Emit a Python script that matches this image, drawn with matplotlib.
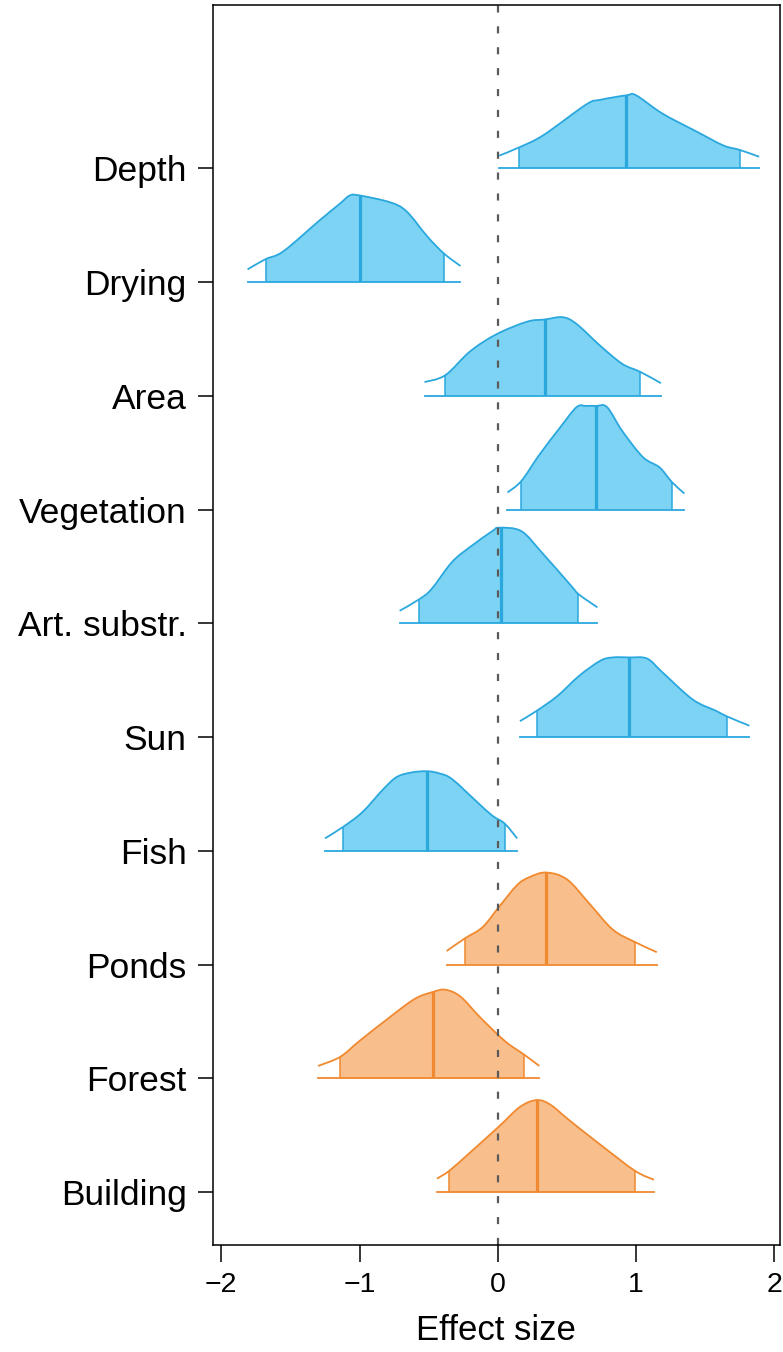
import matplotlib
matplotlib.use('Agg')
import matplotlib.pyplot as plt
from matplotlib.path import Path
from matplotlib.patches import PathPatch, Rectangle
import numpy as np

plt.rcParams['font.family'] = ['Liberation Sans', 'DejaVu Sans']

# predictors, top to bottom
labels = ['Depth', 'Drying', 'Area', 'Vegetation', 'Art. substr.',
          'Sun', 'Fish', 'Ponds', 'Forest', 'Building']
groups = ['local'] * 7 + ['landscape'] * 3

# posterior density outlines (x = effect size, h = height in row units)
dens_x = [
    [0.01, 0.15, 0.33, 0.64, 0.74, 0.93, 1.00, 1.19, 1.44, 1.63, 1.75, 1.89],
    [-1.81, -1.68, -1.55, -1.29, -1.14, -1.07, -1.00, -0.78, -0.66, -0.51, -0.39, -0.27],
    [-0.53, -0.38, -0.20, -0.01, 0.21, 0.34, 0.47, 0.57, 0.74, 0.90, 1.03, 1.18],
    [0.07, 0.17, 0.30, 0.45, 0.57, 0.64, 0.71, 0.79, 0.90, 1.05, 1.17, 1.26, 1.35],
    [-0.71, -0.57, -0.48, -0.33, -0.19, -0.04, 0.01, 0.17, 0.32, 0.53, 0.58, 0.66, 0.72],
    [0.16, 0.28, 0.43, 0.59, 0.74, 0.83, 0.95, 1.08, 1.19, 1.41, 1.58, 1.66, 1.82],
    [-1.25, -1.12, -0.98, -0.83, -0.73, -0.62, -0.51, -0.42, -0.33, -0.15, -0.04, 0.05, 0.14],
    [-0.37, -0.24, -0.11, 0.01, 0.14, 0.23, 0.35, 0.50, 0.66, 0.83, 0.99, 1.15],
    [-1.30, -1.14, -1.00, -0.78, -0.60, -0.47, -0.38, -0.27, -0.13, 0.05, 0.19, 0.30],
    [-0.44, -0.35, -0.20, 0.01, 0.16, 0.28, 0.38, 0.52, 0.74, 0.99, 1.13],
]
dens_h = [
    [0.11, 0.18, 0.29, 0.56, 0.60, 0.64, 0.64, 0.48, 0.32, 0.20, 0.16, 0.10],
    [0.11, 0.20, 0.27, 0.54, 0.69, 0.76, 0.76, 0.70, 0.62, 0.40, 0.25, 0.14],
    [0.12, 0.18, 0.39, 0.54, 0.65, 0.67, 0.69, 0.63, 0.44, 0.28, 0.21, 0.11],
    [0.15, 0.25, 0.48, 0.72, 0.90, 0.91, 0.91, 0.90, 0.69, 0.46, 0.37, 0.24, 0.14],
    [0.11, 0.21, 0.30, 0.54, 0.68, 0.81, 0.84, 0.81, 0.62, 0.33, 0.26, 0.19, 0.14],
    [0.14, 0.23, 0.36, 0.54, 0.67, 0.70, 0.70, 0.69, 0.57, 0.33, 0.23, 0.18, 0.10],
    [0.11, 0.21, 0.34, 0.54, 0.65, 0.69, 0.70, 0.68, 0.63, 0.43, 0.31, 0.24, 0.11],
    [0.12, 0.23, 0.33, 0.51, 0.70, 0.77, 0.81, 0.75, 0.54, 0.31, 0.20, 0.11],
    [0.11, 0.19, 0.33, 0.54, 0.70, 0.76, 0.78, 0.72, 0.54, 0.33, 0.21, 0.11],
    [0.12, 0.19, 0.35, 0.58, 0.75, 0.81, 0.77, 0.63, 0.42, 0.19, 0.11],
]
lower = [0.15, -1.68, -0.38, 0.17, -0.57, 0.28, -1.12, -0.24, -1.14, -0.35]
median = [0.93, -1.00, 0.34, 0.71, 0.02, 0.95, -0.51, 0.35, -0.47, 0.28]
upper = [1.75, -0.39, 1.03, 1.26, 0.58, 1.66, 0.05, 0.99, 0.19, 0.99]

xticks = [-2, -1, 0, 1, 2]

colors = {'local': ('#7dd3f3', '#2aa8de'),
          'landscape': ('#f8bf8c', '#f0892f')}


def smooth_path(pts):
    # bezier path through the read points (catmull-rom handles)
    p = np.vstack([pts[0], pts, pts[-1]])
    verts = [pts[0]]
    codes = [Path.MOVETO]
    for k in range(1, len(p) - 2):
        c1 = p[k] + (p[k + 1] - p[k - 1]) / 6
        c2 = p[k + 1] - (p[k + 2] - p[k]) / 6
        verts += [c1, c2, p[k + 1]]
        codes += [Path.CURVE4] * 3
    return verts, codes


fig = plt.figure(figsize=(7.83, 13.52), dpi=100)
ax = fig.add_axes([0.272, 0.079, 0.724, 0.917])

n = len(labels)
ypos = np.arange(n, 0, -1)

for i in range(n):
    y0 = ypos[i]
    x = np.array(dens_x[i])
    h = np.array(dens_h[i])
    fill, edge = colors[groups[i]]
    verts, codes = smooth_path(np.column_stack([x, y0 + h]))
    outline = Path(verts, codes)
    shape = Path(verts + [(x[-1], y0), (x[0], y0), (x[0], y0)],
                 codes + [Path.LINETO, Path.LINETO, Path.CLOSEPOLY])

    area = PathPatch(shape, fc=fill, ec='none', lw=0)
    ax.add_patch(area)
    area.set_clip_path(Rectangle((lower[i], y0 - 0.5), upper[i] - lower[i], 2,
                                 transform=ax.transData))
    ax.add_patch(PathPatch(outline, fc='none', ec=edge, lw=1.3))
    ax.plot([x[0], x[-1]], [y0, y0], color=edge, lw=1.3)

    mask = PathPatch(shape, fc='none', ec='none', transform=ax.transData)
    ax.add_patch(mask)
    for v, w in ((lower[i], 1.1), (upper[i], 1.1), (median[i], 2.3)):
        ln, = ax.plot([v, v], [y0, y0 + 1.5], color=edge, lw=w,
                      solid_capstyle='butt')
        ln.set_clip_path(mask)

ax.axvline(0, color='#5a5a5a', lw=1.6, ls=(0, (3.2, 6.2)))

ax.set_xlim(-2.06, 2.04)
ax.set_ylim(0.535, 11.43)
ax.set_xticks(xticks)
ax.set_xticklabels([str(t).replace('-', '\u2212') for t in xticks])
ax.set_yticks(ypos)
ax.set_yticklabels(labels)
ax.tick_params(axis='y', labelsize=25.5, length=11, width=1.1, pad=8)
ax.tick_params(axis='x', labelsize=20.5, length=12, width=1.1, pad=7)
ax.set_xlabel('Effect size', fontsize=25, labelpad=12)
for s in ax.spines.values():
    s.set_linewidth(1.1)

plt.savefig('out.png', dpi=100)
